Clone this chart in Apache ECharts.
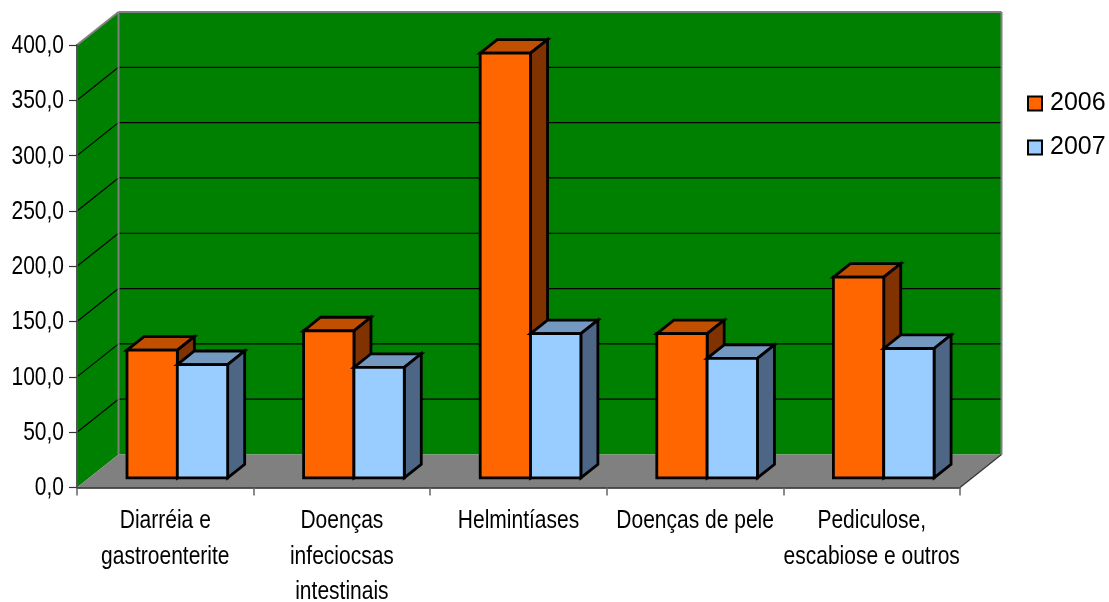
<!DOCTYPE html>
<html>
<head>
<meta charset="utf-8">
<style>html,body{margin:0;padding:0;background:#fff}#chart{width:1109px;height:602px}</style>
<script src="https://cdn.jsdelivr.net/npm/echarts@6/dist/echarts.min.js"></script>
</head>
<body>
<div id="chart"></div>
<script>
// Cases per disease group, 2006 and 2007
const categories = [
  'Diarréia e\ngastroenterite',
  'Doenças\ninfeciocsas\nintestinais',
  'Helmintíases',
  'Doenças de pele',
  'Pediculose,\nescabiose e outros'
];
const values2006 = [115.5, 133, 384, 130.5, 181.5];
const values2007 = [102.5, 100, 130.5, 108, 117];
const yTicks = [0, 50, 100, 150, 200, 250, 300, 350, 400];

// Oblique projection used to fake the 3D box
const DEPTH_X = 41.5, DEPTH_Y = 33;
const BAR_NEAR = 0.29, BAR_FAR = 0.70, GROUP_WIDTH = 0.57;
const LINE = '#000', FRAME = '#808080';
const font = '"Liberation Sans", Arial, sans-serif';
const TEXT_SQUEEZE = 0.84;

function poly(points, fill, stroke, width) {
  return {
    type: 'polygon',
    shape: { points },
    style: { fill, stroke: stroke || 'none', lineWidth: width || 0, lineJoin: 'miter' }
  };
}
function seg(a, b, stroke, width) {
  return {
    type: 'line',
    shape: { x1: a[0], y1: a[1], x2: b[0], y2: b[1] },
    style: { stroke, lineWidth: width, fill: 'none' }
  };
}

// Back wall, side wall, floor and the gridlines bent across both walls
function renderBox(params, api) {
  const cs = params.coordSys;
  const xL = cs.x, xR = cs.x + cs.width;
  const y0 = api.coord([0, yTicks[0]])[1];
  const yT = api.coord([0, yTicks[yTicks.length - 1]])[1];
  const back = (p) => [p[0] + DEPTH_X, p[1] - DEPTH_Y];
  const children = [
    poly([back([xL, yT]), back([xR, yT]), back([xR, y0]), back([xL, y0])], '#008000'),
    poly([[xL, yT], back([xL, yT]), back([xL, y0]), [xL, y0]], '#008000'),
    poly([[xL, y0], back([xL, y0]), back([xR, y0]), [xR, y0]], '#808080')
  ];
  yTicks.slice(1, -1).forEach((t) => {
    const y = api.coord([0, t])[1];
    children.push(seg([xL, y], back([xL, y]), LINE, 1.2));
    children.push(seg(back([xL, y]), back([xR, y]), LINE, 1.2));
  });
  children.push(seg([xL, yT], back([xL, yT]), FRAME, 2));
  children.push(seg(back([xL, yT]), back([xR, yT]), FRAME, 2));
  children.push(seg(back([xL, yT]), back([xL, y0]), FRAME, 2));
  children.push(seg(back([xR, yT]), back([xR, y0]), FRAME, 2));
  children.push(seg([xR, y0], back([xR, y0]), '#333', 1.2));
  return { type: 'group', children };
}

// One extruded bar: front face plus top and side faces
function barRenderer(slot, front, top, side) {
  return function (params, api) {
    const cat = api.value(0);
    const base = api.coord([cat, 0]);
    const head = api.coord([cat, api.value(1)]);
    const band = api.size([1, 0])[0];
    const w = band * GROUP_WIDTH / 2;
    const left = base[0] - w + slot * w + BAR_NEAR * DEPTH_X;
    const right = left + w;
    const ny = -BAR_NEAR * DEPTH_Y;
    const yB = base[1] + ny, yH = head[1] + ny;
    const ox = (BAR_FAR - BAR_NEAR) * DEPTH_X, oy = -(BAR_FAR - BAR_NEAR) * DEPTH_Y;
    return {
      type: 'group',
      children: [
        poly([[left, yH], [left + ox, yH + oy], [right + ox, yH + oy], [right, yH]], top, LINE, 2.8),
        poly([[right, yH], [right + ox, yH + oy], [right + ox, yB + oy], [right, yB]], side, LINE, 2.8),
        poly([[left, yH], [right, yH], [right, yB], [left, yB]], front, LINE, 2.8)
      ]
    };
  };
}

// Condensed tick labels: the installed sans has no narrow cut, so the text is squeezed horizontally
function renderYLabel(params, api) {
  const p = api.coord([0, api.value(0)]);
  return {
    type: 'text',
    x: params.coordSys.x - 13,
    y: p[1] + 1,
    scaleX: TEXT_SQUEEZE,
    style: {
      text: api.value(0).toFixed(1).replace('.', ','),
      font: '25px ' + font,
      fill: '#000',
      align: 'right',
      verticalAlign: 'middle'
    }
  };
}
function renderXLabel(params, api) {
  const p = api.coord([api.value(0), 0]);
  return {
    type: 'text',
    x: p[0],
    y: p[1] + 16,
    scaleX: TEXT_SQUEEZE,
    style: {
      text: categories[api.value(0)],
      font: '25px ' + font,
      lineHeight: 35.5,
      fill: '#000',
      align: 'center',
      verticalAlign: 'top'
    }
  };
}

const chart = echarts.init(document.getElementById('chart'));
chart.setOption({
  animation: false,
  backgroundColor: '#fff',
  grid: { left: 77, right: 149, top: 45, bottom: 114.5, outerBoundsMode: 'none' },
  legend: {
    orient: 'vertical',
    left: 1022,
    top: 86,
    itemWidth: 14,
    itemHeight: 14,
    itemGap: 19,
    selectedMode: false,
    textStyle: { fontFamily: font, fontSize: 25, color: '#000', padding: [0, 0, 0, 3] },
    data: [
      { name: '2006', icon: 'rect', itemStyle: { color: '#ff6600', borderColor: '#000', borderWidth: 2 } },
      { name: '2007', icon: 'rect', itemStyle: { color: '#99ccff', borderColor: '#000', borderWidth: 2 } }
    ]
  },
  xAxis: {
    type: 'category',
    data: categories,
    z: 5,
    axisLine: { show: true, lineStyle: { color: '#222', width: 1.5 } },
    axisTick: { show: true, length: 8, lineStyle: { color: '#666', width: 1.5 } },
    axisLabel: { show: false }
  },
  yAxis: {
    type: 'value',
    min: 0,
    max: 400,
    interval: 50,
    z: 5,
    splitLine: { show: false },
    axisLine: { show: true, lineStyle: { color: '#555', width: 2 } },
    axisTick: { show: true, length: 8, lineStyle: { color: '#333', width: 1.2 } },
    axisLabel: { show: false }
  },
  series: [
    { type: 'custom', name: 'box', silent: true, z: 1, data: [[0, 0]], renderItem: renderBox },
    {
      type: 'custom', name: '2006', z: 2, silent: true,
      itemStyle: { color: '#ff6600' },
      encode: { x: 0, y: 1 },
      data: values2006.map((v, i) => [i, v]),
      renderItem: barRenderer(0, '#ff6600', '#c05000', '#803300')
    },
    {
      type: 'custom', name: '2007', z: 3, silent: true,
      itemStyle: { color: '#99ccff' },
      encode: { x: 0, y: 1 },
      data: values2007.map((v, i) => [i, v]),
      renderItem: barRenderer(1, '#99ccff', '#7399c0', '#4d6685')
    },
    {
      type: 'custom', name: 'yLabels', silent: true, z: 6,
      clip: false,
      encode: { y: 0 },
      data: yTicks.map((t) => [t]),
      renderItem: renderYLabel
    },
    {
      type: 'custom', name: 'xLabels', silent: true, z: 6,
      clip: false,
      encode: { x: 0 },
      data: categories.map((c, i) => [i]),
      renderItem: renderXLabel
    }
  ]
});
</script>
</body>
</html>
